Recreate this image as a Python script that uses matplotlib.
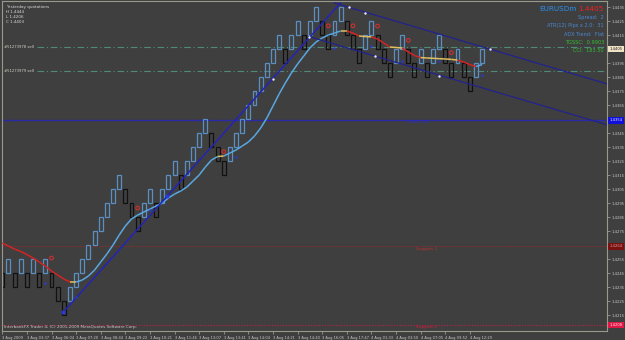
import matplotlib
matplotlib.use("Agg")
import matplotlib.pyplot as plt
from matplotlib.collections import LineCollection
from matplotlib.transforms import blended_transform_factory

# renko bricks of 10 pips: close price and direction of each brick
box_size = 0.0010
renko_close = [
    1.4235, 1.4255, 1.4235, 1.4255, 1.4235, 1.4255, 1.4235, 1.4255, 1.4235, 1.4225,
    1.4215, 1.4235, 1.4245, 1.4255, 1.4265, 1.4275, 1.4285, 1.4295, 1.4305, 1.4315,
    1.4295, 1.4285, 1.4275, 1.4295, 1.4305, 1.4285, 1.4305, 1.4315, 1.4325, 1.4305,
    1.4325, 1.4335, 1.4345, 1.4355, 1.4335, 1.4325, 1.4315, 1.4335, 1.4345, 1.4355,
    1.4365, 1.4375, 1.4385, 1.4395, 1.4405, 1.4415, 1.4395, 1.4415, 1.4425, 1.4405,
    1.4425, 1.4435, 1.4415, 1.4405, 1.4425, 1.4435, 1.4415, 1.4405, 1.4395, 1.4415,
    1.4425, 1.4405, 1.4395, 1.4385, 1.4405, 1.4415, 1.4395, 1.4385, 1.4405, 1.4385,
    1.4405, 1.4415, 1.4395, 1.4385, 1.4405, 1.4385, 1.4375, 1.4395, 1.4405,
]
renko_dir = [
    -1, 1, -1, 1, -1, 1, -1, 1, -1, -1,
    -1, 1, 1, 1, 1, 1, 1, 1, 1, 1,
    -1, -1, -1, 1, 1, -1, 1, 1, 1, -1,
    1, 1, 1, 1, -1, -1, -1, 1, 1, 1,
    1, 1, 1, 1, 1, 1, -1, 1, 1, -1,
    1, 1, -1, -1, 1, 1, -1, -1, -1, 1,
    1, -1, -1, -1, 1, 1, -1, -1, 1, -1,
    1, 1, -1, -1, 1, -1, -1, 1, 1,
]

# smoothed moving average drawn over the bricks
ma_values = [
    1.42664, 1.42643, 1.42621, 1.42604, 1.42582, 1.42557, 1.42529, 1.42500, 1.42464, 1.42436,
    1.42407, 1.42386, 1.42386, 1.42400, 1.42429, 1.42471, 1.42529, 1.42586, 1.42650, 1.42721,
    1.42786, 1.42836, 1.42864, 1.42886, 1.42907, 1.42929, 1.42950, 1.42986, 1.43014, 1.43036,
    1.43064, 1.43107, 1.43150, 1.43207, 1.43257, 1.43282, 1.43286, 1.43307, 1.43329, 1.43357,
    1.43386, 1.43429, 1.43486, 1.43557, 1.43643, 1.43729, 1.43807, 1.43879, 1.43943, 1.44000,
    1.44057, 1.44100, 1.44129, 1.44150, 1.44164, 1.44179, 1.44179, 1.44164, 1.44143, 1.44139,
    1.44137, 1.44121, 1.44093, 1.44064, 1.44061, 1.44057, 1.44029, 1.44004, 1.43989, 1.43986,
    1.43984, 1.43981, 1.43979, 1.43976, 1.43971, 1.43957, 1.43939, 1.43925, 1.43939,
]

# signal marks (bar index, price)
sell_marks_x = [8, 22, 36, 53, 57, 61, 66, 73]
sell_marks_y = [1.42557, 1.42914, 1.43317, 1.44216, 1.44216, 1.44214, 1.44112, 1.44024]
buy_marks_x = [7, 12, 24, 38, 54, 60, 65, 71, 78]
buy_marks_y = [1.42381, 1.42279, 1.42900, 1.43277, 1.44055, 1.44071, 1.43966, 1.43964, 1.43864]

# trend lines (bar index, price)
trend_x = [9.92, 54.96]
trend_y = [1.42171, 1.44379]
upper_x = [53.98, 98.3]
upper_y = [1.44379, 1.43801]
lower_x = [50.08, 98.3]
lower_y = [1.44136, 1.43509]
anchor_x = [56.4, 59.0, 60.65, 71.06, 79.2, 44.07, 49.9]
anchor_y = [1.44350, 1.44307, 1.44000, 1.43857, 1.44050, 1.43836, 1.44136]
trend_dot_x = [9.92, 26.8]
trend_dot_y = [1.42171, 1.43000]

pivot = 1.4354
support1 = 1.4264
support2 = 1.4208
order_levels = [1.44064, 1.43893]
order_labels = ["#51273978 sell", "#51273979 sell"]
current_price = 1.4405

price_ticks = [1.4435, 1.4425, 1.4415, 1.4395, 1.4385, 1.4375, 1.4365, 1.4345,
               1.4335, 1.4325, 1.4315, 1.4305, 1.4295, 1.4285, 1.4275, 1.4255,
               1.4245, 1.4235, 1.4225, 1.4215]

date_pos = [0, 4, 8, 12, 16, 20, 24, 28, 32, 36, 40, 44, 48, 52, 56, 60, 64, 68, 72, 76]
date_labels = ["3 Aug 2009", "3 Aug 03:37", "3 Aug 06:04", "3 Aug 07:20", "3 Aug 08:44",
               "3 Aug 09:22", "3 Aug 10:21", "3 Aug 11:46", "3 Aug 13:07", "3 Aug 13:41",
               "3 Aug 14:04", "3 Aug 14:21", "3 Aug 14:40", "3 Aug 16:05", "3 Aug 17:47",
               "4 Aug 01:33", "4 Aug 03:50", "4 Aug 07:05", "4 Aug 09:52", "4 Aug 12:29"]

bg = "#3f3f3f"
grey_txt = "#c8c8c8"
W, H = 625, 340

fig = plt.figure(figsize=(6.25, 3.4), dpi=100, facecolor=bg)
ax = fig.add_axes([2 / W, 9 / H, 605 / W, 330 / H])
ax.set_facecolor(bg)
ax.set_xlim(-0.05, 98.3)
ax.set_ylim(1.42036, 1.44393)

def px(x, y):
    return x / W, 1 - y / H

# bricks
n = len(renko_close)
opens = [c - d * box_size for c, d in zip(renko_close, renko_dir)]
bottoms = [min(o, c) for o, c in zip(opens, renko_close)]
edge = ["#5b8fc2" if d > 0 else "#111111" for d in renko_dir]
ax.bar(range(n), box_size, bottom=bottoms, width=0.64, facecolor="none",
       edgecolor=edge, linewidth=0.9, zorder=2)

# pivot / support / order lines
ax.axhline(pivot, color="#2a2aa8", lw=1.0, zorder=1)
ax.axhline(support1, color="#9a2a2a", lw=0.8, ls=(0, (1, 1.5)), zorder=1)
ax.axhline(support2, color="#c02040", lw=0.8, ls=(0, (1, 1.5)), zorder=1)
for lvl, lab in zip(order_levels, order_labels):
    ax.hlines(lvl, 5.6, 98.3, color="#4e8a76", lw=0.8, ls=(0, (6, 2.5, 1, 2.5)), zorder=1)
    ax.text(0.2, lvl, lab, fontsize=2.7, color="#d0d8c8", va="center", ha="left")

ax.text(67.5, pivot - 0.00012, "Pivot Line", fontsize=3.2, color="#2e2ed0", ha="center", va="center")
ax.text(69, support1 - 0.0002, "Support 1", fontsize=3.2, color="#c03030", ha="center", va="center")
ax.text(69, support2 - 0.00016, "Support 2", fontsize=3.2, color="#d02040", ha="center", va="center")

# moving average coloured by slope
segs, seg_cols = [], []
for i in range(n - 1):
    segs.append([(i, ma_values[i]), (i + 1, ma_values[i + 1])])
    diff = ma_values[i + 1] - ma_values[i]
    if diff > 0.00005:
        seg_cols.append("#5aa8e2")
    elif diff < -0.00005:
        seg_cols.append("#d42424")
    else:
        seg_cols.append("#e0c060")
ax.add_collection(LineCollection(segs, colors=seg_cols, linewidths=1.1, zorder=3))

# trend channel
ax.plot(trend_x, trend_y, color="#2424b8", lw=1.1, zorder=4)
ax.plot(upper_x, upper_y, color="#22228e", lw=0.9, zorder=4)
ax.plot(lower_x, lower_y, color="#22228e", lw=0.9, zorder=4)
ax.scatter(anchor_x, anchor_y, s=3, color="#e8e8ff", zorder=5, linewidths=0)
ax.scatter(trend_dot_x, trend_dot_y, s=8, color="#2a3ae0", zorder=5, linewidths=0)

# signal marks
ax.scatter(sell_marks_x, sell_marks_y, s=7, facecolors="none", edgecolors="#d03030",
           linewidths=0.8, zorder=5)
ax.scatter(buy_marks_x, buy_marks_y, s=9, marker="*", color="#2a3ad8", zorder=5, linewidths=0)

# right price scale
ax.yaxis.tick_right()
ax.set_yticks(price_ticks)
ax.set_yticklabels([f"{p:.4f}" for p in price_ticks])
ax.tick_params(axis="y", colors="#9a9a8a", labelcolor=grey_txt, labelsize=2.7,
               length=2, width=0.6, pad=1.5)

# bottom time scale
ax.set_xticks(date_pos)
ax.set_xticklabels(date_labels, ha="left")
ax.tick_params(axis="x", colors="#9a9a8a", labelcolor=grey_txt, labelsize=2.6,
               length=2.5, width=0.6, pad=1.2)

for sp in ax.spines.values():
    sp.set_color("#9a9a8a")
    sp.set_linewidth(0.8)

# highlighted levels on the price scale
tr = blended_transform_factory(ax.transAxes, ax.transData)
for lvl, fc, tc in [(current_price, "#efe2c4", "#202020"), (pivot, "#1010d8", "#e0e0ff"),
                    (support1, "#7a1010", "#d0a0a0"), (support2, "#e01848", "#ffe0e0")]:
    ax.text(1.004, lvl, f"{lvl:.4f}", transform=tr, fontsize=2.7, color=tc, va="center",
            ha="left", clip_on=False,
            bbox=dict(boxstyle="square,pad=0.3", fc=fc, ec="none"))

# corner texts
fig.text(*px(6, 7), "Yesterday quotations", fontsize=3.0, color="#d8d8d8", va="center")
fig.text(*px(6, 12), "H 1.4444", fontsize=3.0, color="#d8d8d8", va="center")
fig.text(*px(6, 17), "L 1.4206", fontsize=3.0, color="#d8d8d8", va="center")
fig.text(*px(6, 22), "C 1.4403", fontsize=3.0, color="#d8d8d8", va="center")
fig.text(*px(4, 327), "InterbankFX Trader 4, (C) 2001-2009 MetaQuotes Software Corp.",
         fontsize=3.0, color=grey_txt, va="center")

fig.text(*px(577, 9), "EURUSDm", fontsize=5.2, color="#2a8ef0", ha="right", va="center", zorder=10)
fig.text(*px(604, 9), "1.4405", fontsize=5.2, color="#f02020", ha="right", va="center", zorder=10)
fig.text(*px(604, 17), "Spread:  2", fontsize=3.6, color="#4a88d0", ha="right", va="center")
fig.text(*px(604, 25), "ATR(12) Pips x 2.0:  31", fontsize=3.6, color="#4a88d0", ha="right", va="center")
fig.text(*px(604, 35), "ADX Trend:  Flat", fontsize=3.6, color="#4a88d0", ha="right", va="center")
fig.text(*px(604, 43), "TGSSC:  0.9903", fontsize=3.6, color="#30c030", ha="right", va="center")
fig.text(*px(604, 51), "CCI:  183.50", fontsize=3.6, color="#30c030", ha="right", va="center")

fig.savefig("out.png", dpi=100, facecolor=bg)
